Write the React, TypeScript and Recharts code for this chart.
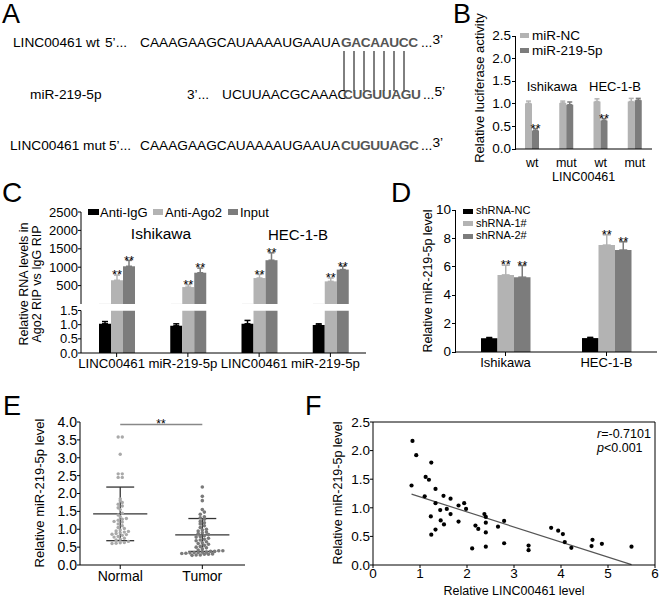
import React from "react";
import {
  BarChart,
  Bar,
  XAxis,
  YAxis,
  ErrorBar,
  LabelList,
  ScatterChart,
  Scatter,
  ReferenceLine,
} from "recharts";

const FONT = '"Liberation Sans", Arial, sans-serif';
const LIGHT = "#b3b3b3";
const DARK = "#7c7c7c";

// B: luciferase reporter
const lucCats = ["wt", "mut", "wt", "mut"];
const lucNC = [1.01, 1.02, 1.05, 1.05];
const lucNCErr = [0.05, 0.04, 0.06, 0.07];
const lucMiR = [0.41, 0.98, 0.63, 1.08];
const lucMiRErr = [0.04, 0.06, 0.04, 0.04];
const lucStars = [true, false, true, false];
const lucTicks = [0, 0.5, 1, 1.5, 2, 2.5];

// C: RIP assay
const ripCats = ["LINC00461", "miR-219-5p", "LINC00461", "miR-219-5p"];
const ripIgG = [1.03, 0.96, 1.03, 0.99];
const ripIgGErr = [0.08, 0.07, 0.12, 0.04];
const ripAgo2 = [645, 460, 705, 615];
const ripAgo2Err = [140, 65, 100, 90];
const ripInput = [1025, 850, 1190, 935];
const ripInputErr = [160, 125, 200, 90];

// D: shRNA knockdown
const shCats = ["Ishikawa", "HEC-1-B"];
const shNC = [0.97, 0.98];
const shNCErr = [0.05, 0.05];
const sh1 = [5.43, 7.53];
const sh1Err = [0.68, 0.72];
const sh2 = [5.27, 7.18];
const sh2Err = [0.82, 0.58];
const shTicks = [0, 2, 4, 6, 8, 10];

// E: tissue levels
const groupNames = ["Normal", "Tumor"];
const normalVals = [
  3.58, 3.58, 3.1, 2.55, 2.55, 2.45, 2.45, 1.85, 1.8, 1.75, 1.7, 1.65, 1.6, 1.55,
  1.45, 1.4, 1.35, 1.3, 1.28, 1.25, 1.22, 1.2, 1.15, 1.1, 1.05, 1.02, 0.98, 0.95,
  0.94, 0.92, 0.9, 0.88, 0.86, 0.85, 0.83, 0.8, 0.78, 0.75, 0.72, 0.7, 0.66, 0.63,
  0.62, 0.61, 0.6,
];
const tumorVals = [
  2.18, 1.92, 1.8, 1.55, 1.48, 1.42, 1.35, 1.32, 1.28, 1.22, 1.18, 1.15, 1.1, 1.05,
  1.0, 0.98, 0.95, 0.92, 0.9, 0.88, 0.85, 0.82, 0.8, 0.78, 0.75, 0.72, 0.7, 0.68,
  0.65, 0.62, 0.6, 0.58, 0.55, 0.52, 0.5, 0.48, 0.45, 0.42, 0.4, 0.4, 0.38, 0.38,
  0.36, 0.36, 0.35, 0.35, 0.34, 0.33, 0.32, 0.31, 0.3, 0.3, 0.28, 0.28, 0.27,
];
const groupMean = [1.43, 0.84];
const groupSD = [0.75, 0.46];

// F: correlation
const corrX = [
  0.84, 0.92, 0.82, 1.24, 1.12, 1.19, 1.33, 1.1, 1.5, 1.33, 1.65, 1.23, 1.43, 1.57,
  1.65, 1.82, 1.94, 1.98, 1.44, 1.51, 1.33, 1.24, 1.82, 2.18, 2.24, 2.11, 2.37, 2.4,
  2.4, 2.4, 2.4, 2.66, 2.79, 2.79, 3.31, 3.31, 3.79, 3.94, 4.04, 4.08, 4.22, 4.67,
  4.65, 4.87, 5.5,
];
const corrY = [
  2.17, 1.92, 1.39, 1.79, 1.54, 1.49, 1.33, 1.2, 1.21, 1.08, 1.16, 0.85, 0.96, 0.98,
  0.89, 1.04, 1.08, 0.98, 0.78, 0.71, 0.62, 0.53, 0.76, 0.69, 0.63, 0.29, 0.89, 0.84,
  0.74, 0.57, 0.32, 0.67, 0.77, 0.38, 0.34, 0.26, 0.65, 0.6, 0.54, 0.4, 0.3, 0.44,
  0.33, 0.37, 0.32,
];

const axisStroke = { stroke: "#000", strokeWidth: 1 };
const tickStyle = (fs: number) => ({ fontSize: fs, fill: "#000", fontFamily: FONT });
const fmt1 = (v: number) => v.toFixed(1);

// text helpers
const T = ({ x, y, fs, lh, children, anchor = "start", style = {} }: any) => {
  const h = lh || fs;
  return (
    <div
      style={{
        position: "absolute",
        left: x,
        top: y - h / 2,
        fontSize: fs,
        lineHeight: `${h}px`,
        whiteSpace: "nowrap",
        transform: anchor === "middle" ? "translateX(-50%)" : anchor === "end" ? "translateX(-100%)" : undefined,
        ...style,
      }}
    >
      {children}
    </div>
  );
};

const V = ({ cx, cy, fs, children, lh }: any) => (
  <div
    style={{
      position: "absolute",
      left: cx,
      top: cy,
      fontSize: fs,
      lineHeight: `${lh || fs}px`,
      whiteSpace: "nowrap",
      textAlign: "center",
      transform: "translate(-50%, -50%) rotate(-90deg)",
    }}
  >
    {children}
  </div>
);

const Swatch = ({ x, y, w, h, c, z }: any) => (
  <div style={{ position: "absolute", left: x, top: y, width: w, height: h, background: c, zIndex: z }} />
);

// value axis in plain HTML for panels B and D, same frame and domain as the hidden YAxis of the chart below it
const ManualYAxis = ({ x, top, bottom, max, ticks, fs, fmt }: any) => {
  const h = bottom - top;
  const py = (v: number) => top + h - (v / max) * h;
  return (
    <>
      <Swatch x={x - 0.5} y={top} w={1} h={h + 0.5} c="#000" z={10} />
      {ticks.map((t: number) => (
        <React.Fragment key={t}>
          <Swatch x={x - 3.5} y={py(t) - 0.5} w={3} h={1} c="#000" z={10} />
          <T x={x - 4} y={py(t)} fs={fs} anchor="end" style={{ zIndex: 10 }}>
            {fmt(t)}
          </T>
        </React.Fragment>
      ))}
    </>
  );
};

// stars sit just above the error bar cap
const stars =
  (vals: number[], errs: number[], flags: boolean[], fs: number) => (p: any) => {
    const i = p.index;
    if (i == null || !flags[i]) return null;
    const vb = p.viewBox || p;
    const x = Number(vb.x ?? p.x);
    const y = Number(vb.y ?? p.y);
    const w = Number(vb.width ?? p.width);
    const h = Number(vb.height ?? p.height);
    const e = (errs[i] * h) / vals[i];
    return (
      <text x={x + w / 2} y={y - e - 1.5 + 0.44 * fs} textAnchor="middle" fontSize={fs} fontFamily={FONT} fill="#000">
        **
      </text>
    );
  };

const swarm = (vals: number[], center: number) => {
  const bins: Record<number, number[]> = {};
  vals.forEach((v) => {
    const k = Math.round(v / 0.09);
    (bins[k] ||= []).push(v);
  });
  const pts: { x: number; y: number }[] = [];
  Object.values(bins).forEach((b) => {
    b.sort((a, c) => a - c).forEach((v, j) => pts.push({ x: center + (j - (b.length - 1) / 2) * 0.05, y: v }));
  });
  return pts;
};

const dot = (r: number, fill: string) => (p: any) => <circle cx={p.cx} cy={p.cy} r={r} fill={fill} />;

function PanelA() {
  const fs = 13.7;
  const hi = { color: "#555", fontWeight: "bold" as const, letterSpacing: "-0.4px" };
  const end = (a: string) => (
    <>
      ...<span style={{ position: "relative", top: -3 }}>{a}</span>
    </>
  );
  const lineXs = Array.from({ length: 7 }, (_, i) => 344 + i * 10);
  return (
    <>
      <T x={13} y={43} fs={fs}>LINC00461 wt</T>
      <T x={105} y={43} fs={fs}>5’...</T>
      <T x={140} y={43} fs={fs}>CAAAGAAGCAUAAAAUGAAUA</T>
      <T x={341} y={43} fs={fs} style={hi}>GACAAUCC</T>
      <T x={421} y={43} fs={fs}>{end("3’")}</T>
      <svg style={{ position: "absolute", left: 0, top: 0 }} width={420} height={150}>
        {lineXs.map((x) => (
          <line key={x} x1={x} x2={x} y1={51} y2={91} stroke="#000" strokeWidth={1} />
        ))}
      </svg>
      <T x={30} y={95} fs={fs}>miR-219-5p</T>
      <T x={187} y={95} fs={fs}>3’...</T>
      <T x={222} y={95} fs={fs}>UCUUAACGCAAAC</T>
      <T x={343} y={95} fs={fs} style={hi}>CUGUUAGU</T>
      <T x={423} y={95} fs={fs}>{end("5’")}</T>
      <T x={10} y={146} fs={fs}>LINC00461 mut</T>
      <T x={109} y={146} fs={fs}>5’...</T>
      <T x={140} y={146} fs={fs}>CAAAGAAGCAUAAAAUGAAUA</T>
      <T x={341} y={146} fs={fs} style={hi}>CUGUUAGC</T>
      <T x={421} y={146} fs={fs}>{end("3’")}</T>
    </>
  );
}

function PanelB() {
  const data = lucCats.map((c, i) => ({
    cat: c,
    nc: lucNC[i],
    ncErr: [0, lucNCErr[i]],
    mir: lucMiR[i],
    mirErr: [0, lucMiRErr[i]],
  }));
  return (
    <>
      <div style={{ position: "absolute", left: 470, top: 0 }}>
        <BarChart width={190} height={180} data={data} margin={{ top: 36, right: 8, bottom: 15, left: 45 }} barGap={0} barSize={7}>
          <XAxis dataKey="cat" height={16} axisLine={axisStroke} tickLine={false} tick={tickStyle(12.5)} tickMargin={3} interval={0} />
          <YAxis hide domain={[0, 2.5]} />
          <Bar dataKey="nc" fill={LIGHT} isAnimationActive={false}>
            <ErrorBar dataKey="ncErr" width={2.5} stroke={LIGHT} />
          </Bar>
          <Bar dataKey="mir" fill={DARK} isAnimationActive={false}>
            <ErrorBar dataKey="mirErr" width={2.5} stroke={DARK} />
            <LabelList dataKey="mir" content={stars(lucMiR, lucMiRErr, lucStars, 13)} />
          </Bar>
        </BarChart>
      </div>
      <ManualYAxis x={515} top={36} bottom={149} max={2.5} ticks={lucTicks} fs={13.5} fmt={fmt1} />
    </>
  );
}

function PanelC() {
  const allStars = ripCats.map(() => true);
  const top = ripCats.map((c, i) => ({ cat: c, igg: ripIgG[i], ago2: ripAgo2[i], input: ripInput[i], ago2Err: [0, ripAgo2Err[i]], inputErr: [0, ripInputErr[i]] }));
  const low = ripCats.map((c, i) => ({
    cat: c,
    igg: ripIgG[i],
    iggErr: [0, ripIgGErr[i]],
    ago2: Math.min(ripAgo2[i], 1.5),
    input: Math.min(ripInput[i], 1.5),
  }));
  return (
    <>
      <div style={{ position: "absolute", left: 0, top: 150 }}>
        <BarChart width={370} height={154} data={top} margin={{ top: 62, right: 4, bottom: 0, left: 0 }} barGap={0} barSize={12}>
          <XAxis dataKey="cat" hide />
          <YAxis width={81} domain={[0, 2500]} ticks={[500, 1000, 1500, 2000, 2500]} interval={0} axisLine={axisStroke} tickLine={axisStroke} tickSize={3} tickMargin={0} tick={tickStyle(13)} />
          <Bar dataKey="igg" fill="#000" isAnimationActive={false} />
          <Bar dataKey="ago2" fill={LIGHT} isAnimationActive={false}>
            <ErrorBar dataKey="ago2Err" width={3} stroke={LIGHT} />
            <LabelList dataKey="ago2" content={stars(ripAgo2, ripAgo2Err, allStars, 13)} />
          </Bar>
          <Bar dataKey="input" fill={DARK} isAnimationActive={false}>
            <ErrorBar dataKey="inputErr" width={3} stroke={DARK} />
            <LabelList dataKey="input" content={stars(ripInput, ripInputErr, allStars, 13)} />
          </Bar>
        </BarChart>
      </div>
      <div style={{ position: "absolute", left: 0, top: 300 }}>
        <BarChart width={370} height={90} data={low} margin={{ top: 10.5, right: 4, bottom: 14, left: 0 }} barGap={0} barSize={12}>
          <XAxis dataKey="cat" height={23} interval={0} axisLine={axisStroke} tickLine={axisStroke} tickSize={4} tick={{ ...tickStyle(13.2), dx: -5 }} />
          <YAxis width={81} domain={[0, 1.5]} allowDataOverflow ticks={[0, 0.5, 1, 1.5]} interval={0} tickFormatter={fmt1} axisLine={axisStroke} tickLine={axisStroke} tickSize={3} tickMargin={0} tick={tickStyle(13)} />
          <Bar dataKey="igg" fill="#000" isAnimationActive={false}>
            <ErrorBar dataKey="iggErr" width={3} stroke="#000" />
          </Bar>
          <Bar dataKey="ago2" fill={LIGHT} isAnimationActive={false} />
          <Bar dataKey="input" fill={DARK} isAnimationActive={false} />
        </BarChart>
      </div>
      <Swatch x={88} y={209} w={11} h={6} c="#000" />
      <T x={100} y={212} fs={13}>Anti-IgG</T>
      <Swatch x={153} y={209} w={10} h={6} c={LIGHT} />
      <T x={165} y={212} fs={13}>Anti-Ago2</T>
      <Swatch x={228} y={209} w={10} h={6} c={DARK} />
      <T x={240} y={212} fs={13}>Input</T>
      <T x={161} y={234} fs={15.5} anchor="middle">Ishikawa</T>
      <T x={298} y={234} fs={15} anchor="middle">HEC-1-B</T>
      <V cx={31} cy={284} fs={12.5} lh={13}>
        Relative RNA levels in
        <br />
        Ago2 RIP vs IgG RIP
      </V>
    </>
  );
}

function PanelD() {
  const data = shCats.map((c, i) => ({
    cat: c,
    nc: shNC[i],
    ncErr: [0, shNCErr[i]],
    s1: sh1[i],
    s1Err: [0, sh1Err[i]],
    s2: sh2[i],
    s2Err: [0, sh2Err[i]],
  }));
  const yes = shCats.map(() => true);
  return (
    <>
      <div style={{ position: "absolute", left: 400, top: 150 }}>
        <BarChart width={260} height={240} data={data} margin={{ top: 60, right: 3, bottom: 13, left: 55 }} barGap={0} barSize={16.5}>
          <XAxis dataKey="cat" height={25} interval={0} axisLine={axisStroke} tickLine={axisStroke} tickSize={4} tick={tickStyle(13)} />
          <YAxis hide domain={[0, 10]} />
          <Bar dataKey="nc" fill="#000" isAnimationActive={false}>
            <ErrorBar dataKey="ncErr" width={3} stroke="#000" />
          </Bar>
          <Bar dataKey="s1" fill={LIGHT} isAnimationActive={false}>
            <ErrorBar dataKey="s1Err" width={4} stroke={LIGHT} />
            <LabelList dataKey="s1" content={stars(sh1, sh1Err, yes, 13)} />
          </Bar>
          <Bar dataKey="s2" fill={DARK} isAnimationActive={false}>
            <ErrorBar dataKey="s2Err" width={4} stroke={DARK} />
            <LabelList dataKey="s2" content={stars(sh2, sh2Err, yes, 13)} />
          </Bar>
        </BarChart>
      </div>
      <ManualYAxis x={455} top={210} bottom={352} max={10} ticks={shTicks} fs={13.5} fmt={(v: number) => String(v)} />
      <Swatch x={463} y={208.5} w={10} h={5} c="#000" />
      <T x={476} y={210.5} fs={11} lh={11}>shRNA-NC</T>
      <Swatch x={463} y={221.2} w={10} h={5} c={LIGHT} />
      <T x={476} y={223.2} fs={11} lh={11}>shRNA-1#</T>
      <Swatch x={463} y={233.9} w={10} h={5} c={DARK} />
      <T x={476} y={235.9} fs={11} lh={11}>shRNA-2#</T>
      <V cx={428} cy={281} fs={12.5}>Relative miR-219-5p level</V>
    </>
  );
}

function PanelE() {
  const normal = swarm(normalVals, 1);
  const tumor = swarm(tumorVals, 2);
  const line = "#333";
  return (
    <>
      <div style={{ position: "absolute", left: 0, top: 390 }}>
        <ScatterChart width={260} height={208} margin={{ top: 32, right: 15, bottom: 8, left: 0 }}>
          <XAxis type="number" dataKey="x" domain={[0.51, 2.52]} ticks={[1, 2]} interval={0} tickFormatter={(v: number) => groupNames[v - 1]} height={25} axisLine={axisStroke} tickLine={axisStroke} tickSize={4} tick={tickStyle(14)} />
          <YAxis type="number" dataKey="y" width={80} domain={[0, 4]} ticks={[0, 0.5, 1, 1.5, 2, 2.5, 3, 3.5, 4]} interval={0} tickFormatter={fmt1} axisLine={axisStroke} tickLine={axisStroke} tickSize={3} tickMargin={0} tick={tickStyle(14)} />
          <Scatter data={normal} shape={dot(1.7, "#a9a9a9")} isAnimationActive={false} />
          <Scatter data={tumor} shape={dot(1.8, "#7a7a7a")} isAnimationActive={false} />
          {groupMean.map((m, i) => {
            const g = i + 1;
            const s = groupSD[i];
            return (
              <React.Fragment key={g}>
                <ReferenceLine segment={[{ x: g, y: m - s }, { x: g, y: m + s }]} stroke={line} strokeWidth={1.3} />
                <ReferenceLine segment={[{ x: g - 0.17, y: m + s }, { x: g + 0.17, y: m + s }]} stroke={line} strokeWidth={1.3} />
                <ReferenceLine segment={[{ x: g - 0.17, y: m - s }, { x: g + 0.17, y: m - s }]} stroke={line} strokeWidth={1.3} />
                <ReferenceLine segment={[{ x: g - 0.33, y: m }, { x: g + 0.33, y: m }]} stroke={line} strokeWidth={1.3} />
              </React.Fragment>
            );
          })}
          <ReferenceLine segment={[{ x: 1, y: 3.93 }, { x: 2, y: 3.93 }]} stroke="#888" strokeWidth={1.3} />
        </ScatterChart>
      </div>
      <T x={161} y={424} fs={12} anchor="middle">**</T>
      <V cx={39} cy={493} fs={13}>Relative miR-219-5p level</V>
    </>
  );
}

function PanelF() {
  const pts = corrX.map((x, i) => ({ x, y: corrY[i] }));
  const n = corrX.length;
  const mx = corrX.reduce((a, b) => a + b, 0) / n;
  const my = corrY.reduce((a, b) => a + b, 0) / n;
  let sxy = 0;
  let sxx = 0;
  corrX.forEach((x, i) => {
    sxy += (x - mx) * (corrY[i] - my);
    sxx += (x - mx) * (x - mx);
  });
  const slope = sxy / sxx;
  const icpt = my - slope * mx;
  const x0 = Math.min(...corrX);
  const x1 = Math.max(...corrX);
  return (
    <>
      <div style={{ position: "absolute", left: 330, top: 390 }}>
        <ScatterChart width={330} height={208} margin={{ top: 32, right: 5, bottom: 8, left: 0 }}>
          <XAxis type="number" dataKey="x" domain={[0, 6]} ticks={[0, 1, 2, 3, 4, 5, 6]} interval={0} height={25} axisLine={axisStroke} tickLine={axisStroke} tickSize={3} tickMargin={0} tick={tickStyle(13.5)} />
          <YAxis type="number" dataKey="y" width={43} domain={[0, 2.5]} ticks={[0, 0.5, 1, 1.5, 2, 2.5]} interval={0} tickFormatter={fmt1} axisLine={axisStroke} tickLine={axisStroke} tickSize={3} tickMargin={0} tick={tickStyle(13.5)} />
          <ReferenceLine y={2.5} stroke="#000" strokeWidth={1} />
          <ReferenceLine x={6} stroke="#000" strokeWidth={1} />
          <ReferenceLine segment={[{ x: x0, y: icpt + slope * x0 }, { x: x1, y: icpt + slope * x1 }]} stroke="#555" strokeWidth={1.2} />
          <Scatter data={pts} shape={dot(2.1, "#000")} isAnimationActive={false} />
        </ScatterChart>
      </div>
      <T x={597} y={434} fs={12.5} lh={12}>
        <i>r</i>=-0.7101
      </T>
      <T x={597} y={448} fs={12.5} lh={12}>
        <i>p</i>&lt;0.001
      </T>
      <T x={514} y={591} fs={12.5} anchor="middle">Relative LINC00461 level</T>
      <V cx={338} cy={493} fs={12.5}>Relative miR-219-5p level</V>
    </>
  );
}

export default function App() {
  return (
    <div
      style={{
        position: "absolute",
        left: 0,
        top: 0,
        width: 660,
        height: 598,
        background: "#fff",
        color: "#000",
        fontFamily: FONT,
        overflow: "hidden",
      }}
    >
      <T x={2} y={14.5} fs={27}>A</T>
      <T x={453} y={14.5} fs={27}>B</T>
      <T x={2} y={193} fs={28}>C</T>
      <T x={391} y={193} fs={28}>D</T>
      <T x={3} y={406} fs={27}>E</T>
      <T x={305} y={406} fs={27}>F</T>

      <PanelA />

      <PanelB />
      <Swatch x={520} y={33} w={9} h={5} c={LIGHT} />
      <T x={532} y={35} fs={13.5} lh={13}>miR-NC</T>
      <Swatch x={520} y={48} w={9} h={5} c={DARK} />
      <T x={532} y={50} fs={13.5} lh={13}>miR-219-5p</T>
      <T x={552} y={86} fs={13} anchor="middle">Ishikawa</T>
      <T x={615} y={86} fs={13} anchor="middle">HEC-1-B</T>
      <T x={552} y={177} fs={12.5} lh={10}>LINC00461</T>
      <V cx={479} cy={88} fs={13}>Relative luciferase activity</V>

      <PanelC />
      <PanelD />
      <PanelE />
      <PanelF />
    </div>
  );
}
